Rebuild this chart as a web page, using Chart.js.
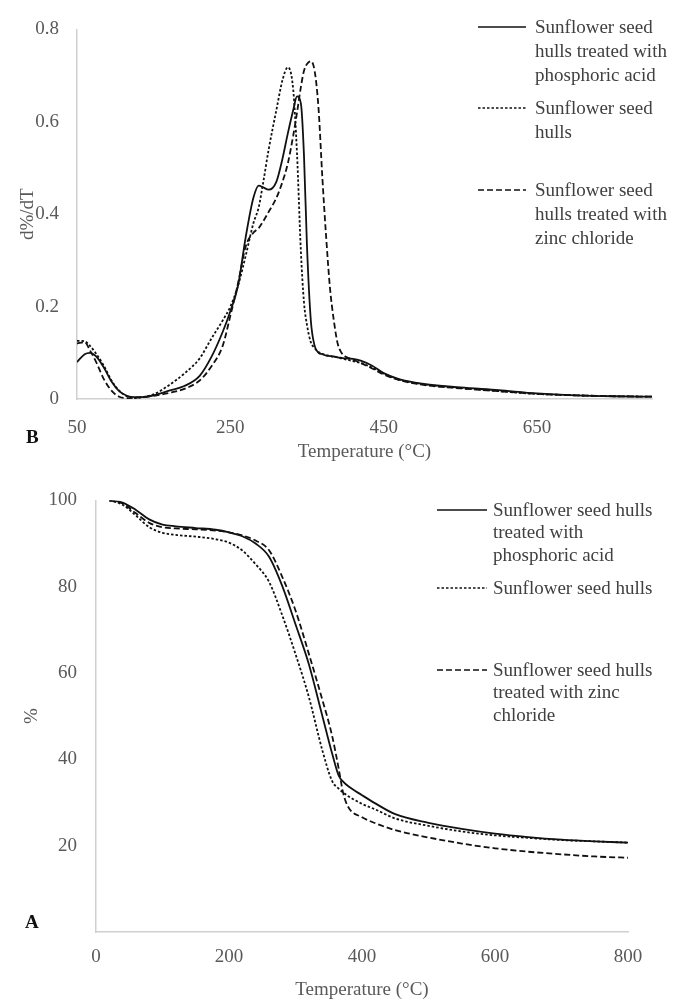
<!DOCTYPE html>
<html>
<head>
<meta charset="utf-8">
<script src="https://cdn.jsdelivr.net/npm/chart.js@4"></script>
<style>
  body { margin: 0; background: #fff; width: 678px; height: 1000px; position: relative; overflow: hidden; }
  .wrap { position: absolute; left: 0; width: 678px; }
  .legend { position: absolute; font-family: "Liberation Serif", serif; font-size: 19px; color: #404040; }
  .legend svg { position: absolute; }
  .legend .txt { position: absolute; white-space: nowrap; }
  .tag { position: absolute; font-family: "Liberation Serif", serif; font-weight: bold; font-size: 19px; color: #111; }
</style>
</head>
<body>
<div class="wrap" style="top:0;height:470px"><canvas id="dtgChart" width="678" height="470"></canvas></div>
<div class="wrap" style="top:470px;height:530px"><canvas id="tgaChart" width="678" height="530"></canvas></div>

<div class="tag" style="left:26px;top:426px">B</div>
<div class="tag" style="left:25px;top:911px">A</div>

<div id="legendB" class="legend"></div>
<div id="legendA" class="legend"></div>

<script>
// series names
var seriesNames = [
  'Sunflower seed hulls treated with phosphoric acid',
  'Sunflower seed hulls',
  'Sunflower seed hulls treated with zinc chloride'
];

// --- B: derivative curve (d%/dT) ---
var dtgTemp = [50, 60, 67, 75, 85, 95, 105, 115, 125, 135, 150, 170, 190, 210, 225, 240, 250, 260, 270, 280,
  287, 293, 300, 310, 318, 325, 332, 337, 342, 346, 350, 355, 360, 365, 370, 375, 380, 385, 390, 395,
  400, 410, 420, 435, 450, 470, 500, 550, 600, 650, 700, 750, 800];
var dtgPhosphoric = [0.080, 0.097, 0.100, 0.092, 0.068, 0.038, 0.017, 0.007, 0.004, 0.004, 0.008, 0.018, 0.028, 0.050, 0.090, 0.145, 0.190, 0.245, 0.350, 0.435,
  0.462, 0.458, 0.453, 0.470, 0.520, 0.575, 0.625, 0.655, 0.640, 0.530, 0.330, 0.170, 0.115, 0.100, 0.097, 0.094, 0.093, 0.092, 0.090, 0.089,
  0.088, 0.087, 0.083, 0.072, 0.056, 0.043, 0.033, 0.025, 0.019, 0.012, 0.008, 0.006, 0.005];
var dtgRaw = [0.126, 0.125, 0.115, 0.098, 0.072, 0.040, 0.018, 0.006, 0.002, 0.004, 0.010, 0.030, 0.055, 0.088, 0.130, 0.170, 0.200, 0.245, 0.310, 0.380,
  0.415, 0.470, 0.540, 0.625, 0.690, 0.718, 0.670, 0.530, 0.320, 0.210, 0.160, 0.123, 0.110, 0.102, 0.098, 0.095, 0.093, 0.091, 0.090, 0.088,
  0.086, 0.082, 0.078, 0.068, 0.055, 0.042, 0.032, 0.024, 0.017, 0.011, 0.008, 0.006, 0.005];
var dtgZinc = [0.120, 0.123, 0.105, 0.080, 0.043, 0.018, 0.005, 0.002, 0.003, 0.004, 0.007, 0.013, 0.022, 0.040, 0.070, 0.115, 0.180, 0.250, 0.330, 0.360,
  0.370, 0.385, 0.405, 0.435, 0.470, 0.510, 0.570, 0.620, 0.675, 0.710, 0.725, 0.731, 0.710, 0.630, 0.480, 0.350, 0.240, 0.170, 0.120, 0.100,
  0.092, 0.085, 0.078, 0.066, 0.053, 0.041, 0.031, 0.023, 0.017, 0.011, 0.008, 0.006, 0.005];
var dtgXTicks = [50, 250, 450, 650];
var dtgYTicks = [0, 0.2, 0.4, 0.6, 0.8];
var dtgYLabels = ['0', '0.2', '0.4', '0.6', '0.8'];

// --- A: mass loss curve (%) ---
var tgaTemp = [20, 40, 60, 80, 100, 120, 150, 180, 200, 220, 240, 260, 280, 300, 320, 340, 355, 365, 372, 380,
  400, 420, 450, 500, 550, 600, 650, 700, 750, 800];
var tgaPhosphoric = [100, 99.5, 97.8, 95.6, 94.4, 94.0, 93.6, 93.2, 92.6, 91.7, 90.0, 87.0, 80.2, 71.3, 62.1, 50.3, 41.4, 36.2, 34.8, 33.7,
  31.7, 29.8, 27.3, 25.3, 23.9, 22.8, 22.0, 21.4, 21.0, 20.7];
var tgaRaw = [100, 99.0, 96.5, 93.8, 92.5, 92.0, 91.6, 91.0, 90.2, 88.4, 85.2, 81.2, 73.4, 64.4, 54.5, 42.3, 35.0, 33.2, 32.3, 31.4,
  29.7, 28.4, 26.3, 24.6, 23.3, 22.4, 21.8, 21.3, 21.0, 20.7];
var tgaZinc = [100, 99.3, 97.0, 94.8, 93.8, 93.5, 93.3, 93.0, 92.6, 91.9, 90.7, 88.5, 82.3, 74.5, 64.5, 54.0, 45.5, 37.8, 32.0, 28.8,
  26.6, 25.2, 23.6, 21.9, 20.5, 19.4, 18.6, 18.0, 17.5, 17.2];
var tgaXTicks = [0, 200, 400, 600, 800];
var tgaYTicks = [20, 40, 60, 80, 100];

var lineStyles = [[], [2.5, 2], [6, 3]];
var serif = 'Liberation Serif';

function pairs(xs, ys) {
  return xs.map(function(x, i) { return { x: x, y: ys[i] }; });
}

function makeDatasets(xs, list) {
  return list.map(function(ys, i) {
    return {
      label: seriesNames[i],
      data: pairs(xs, ys),
      borderColor: '#111',
      borderWidth: 1.8,
      borderDash: lineStyles[i],
      pointRadius: 0,
      fill: false,
      cubicInterpolationMode: 'monotone'
    };
  });
}

function axis(opts) {
  return {
    type: 'linear',
    min: opts.min,
    max: opts.max,
    afterBuildTicks: function(s) { s.ticks = opts.ticks.map(function(v) { return { value: v }; }); },
    afterFit: function(s) { if (opts.width) s.width = opts.width; if (opts.height) s.height = opts.height; },
    grid: { display: false, drawTicks: false },
    border: { display: true, color: '#d0d0d0', width: 1.5 },
    ticks: {
      font: { family: serif, size: 19 },
      color: '#595959',
      padding: opts.pad,
      autoSkip: false,
      maxRotation: 0,
      callback: opts.labels ? function(v, i) { return opts.labels[i]; } : function(v) { return String(v); }
    },
    title: {
      display: true,
      text: opts.title,
      font: { family: serif, size: 19, lineHeight: 1 },
      color: '#595959',
      padding: opts.titlePad
    }
  };
}

function baseOptions(padding, xAxis, yAxis) {
  return {
    responsive: false,
    animation: false,
    layout: { padding: padding },
    plugins: { legend: { display: false }, tooltip: { enabled: false } },
    scales: { x: xAxis, y: yAxis }
  };
}

new Chart(document.getElementById('dtgChart').getContext('2d'), {
  type: 'line',
  data: { datasets: makeDatasets(dtgTemp, [dtgPhosphoric, dtgRaw, dtgZinc]) },
  options: baseOptions({ top: 25, right: 26, left: 0, bottom: 0 },
    axis({ min: 50, max: 800, ticks: dtgXTicks, pad: 18, height: 71, title: 'Temperature (°C)', titlePad: { top: 0, bottom: 8.5 } }),
    axis({ min: 0, max: 0.8, ticks: dtgYTicks, labels: dtgYLabels, pad: 18, width: 77, title: 'd%/dT', titlePad: { top: 18.5, bottom: 0 } }))
});

new Chart(document.getElementById('tgaChart').getContext('2d'), {
  type: 'line',
  data: { datasets: makeDatasets(tgaTemp, [tgaPhosphoric, tgaRaw, tgaZinc]) },
  options: baseOptions({ top: 29, right: 50, left: 0, bottom: 0 },
    axis({ min: 0, max: 800, ticks: tgaXTicks, pad: 14, height: 68, title: 'Temperature (°C)', titlePad: { top: 0, bottom: 0.5 } }),
    axis({ min: 0, max: 100, ticks: tgaYTicks, pad: 19, width: 96, title: '%', titlePad: { top: 22.5, bottom: 0 } }))
});

// legends drawn as html text next to line samples
function buildLegend(el, entries) {
  var html = '';
  entries.forEach(function(e, i) {
    var dash = lineStyles[i].length ? lineStyles[i].join(',') : 'none';
    html += '<svg style="left:' + e.lx + 'px;top:' + (e.y - 2) + 'px" width="' + e.lw + '" height="4">' +
      '<line x1="0" y1="2" x2="' + e.lw + '" y2="2" stroke="#111" stroke-width="1.6" stroke-dasharray="' + dash + '"/></svg>';
    html += '<div class="txt" style="left:' + e.tx + 'px;top:' + (e.y - e.lh / 2) + 'px;line-height:' + e.lh + 'px">' +
      e.lines.join('<br>') + '</div>';
  });
  el.innerHTML = html;
}

buildLegend(document.getElementById('legendB'), [
  { lx: 478, lw: 48, tx: 535, y: 27, lh: 24, lines: ['Sunflower seed', 'hulls treated with', 'phosphoric acid'] },
  { lx: 478, lw: 48, tx: 535, y: 108, lh: 24, lines: ['Sunflower seed', 'hulls'] },
  { lx: 478, lw: 48, tx: 535, y: 190, lh: 24, lines: ['Sunflower seed', 'hulls treated with', 'zinc chloride'] }
]);

buildLegend(document.getElementById('legendA'), [
  { lx: 437, lw: 50, tx: 493, y: 510, lh: 22.5, lines: ['Sunflower seed hulls', 'treated with', 'phosphoric acid'] },
  { lx: 437, lw: 50, tx: 493, y: 588, lh: 22.5, lines: ['Sunflower seed hulls'] },
  { lx: 437, lw: 50, tx: 493, y: 670, lh: 22.5, lines: ['Sunflower seed hulls', 'treated with zinc', 'chloride'] }
]);
</script>
</body>
</html>
